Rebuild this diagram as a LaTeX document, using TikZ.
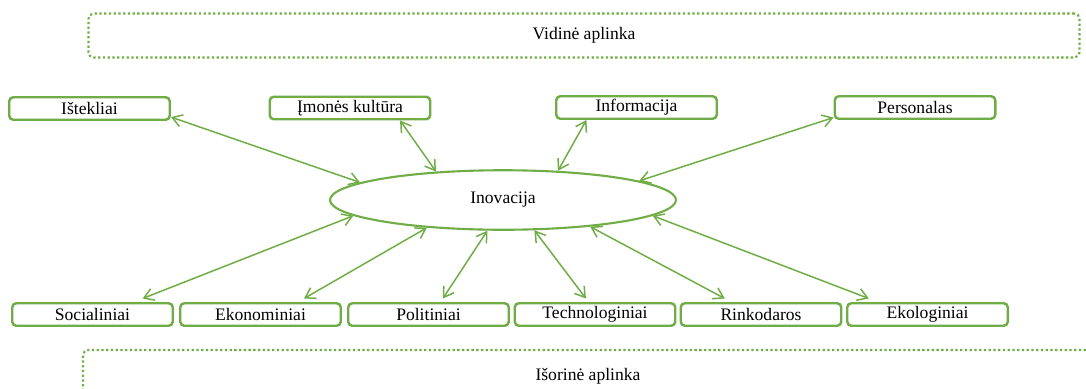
\documentclass[tikz,border=0pt]{standalone}
\usepackage{fontspec}
\setmainfont{Liberation Serif}
\usetikzlibrary{arrows.meta,shapes.geometric}
\definecolor{leaf}{RGB}{112,173,71}
\tikzset{
    factor/.style={draw=leaf,line width=1.4pt,rounded corners=2.3pt,fill=white,
        minimum width=3.21cm,minimum height=0.45cm,inner sep=0pt},
    env/.style={draw=leaf,line width=1.2pt,dash pattern=on 1.3pt off 1.4pt,rounded corners=3pt},
    link/.style={draw=leaf,line width=0.85pt,{Straight Barb[length=5.5pt,width=7pt]}-{Straight Barb[length=5.5pt,width=7pt]}}
}
\begin{document}
\begin{tikzpicture}
    \useasboundingbox (0,0) rectangle (21.72,-7.76);
    %% Environments
    \node[env,minimum width=19.82cm,minimum height=0.88cm] (vid) at (11.68,-0.71) {Vidinė aplinka};
    \begin{scope}
        \clip (0,0) rectangle (21.72,-7.76);
        \draw[env] (1.66,-8.2) -- (1.66,-7.0) -- (22.5,-7.0);
    \end{scope}
    \node (isor) at (11.76,-7.52) {Išorinė aplinka};
    %% Innovation
    \node[draw=leaf,line width=1.2pt,ellipse,minimum width=6.92cm,minimum height=1.19cm,inner sep=0pt] (ino) at (10.06,-4.0) {Inovacija};
    %% Internal factors
    \node[factor] (ist) at (1.79,-2.17) {Ištekliai};
    \node[factor] (imo) at (7.0,-2.16) {Įmonės kultūra};
    \node[factor] (inf) at (12.73,-2.15) {Informacija};
    \node[factor] (per) at (18.3,-2.15) {Personalas};
    %% External factors
    \node[factor] (soc) at (1.85,-6.29) {Socialiniai};
    \node[factor] (eko) at (5.21,-6.29) {Ekonominiai};
    \node[factor] (pol) at (8.57,-6.29) {Politiniai};
    \node[factor] (tec) at (11.9,-6.29) {Technologiniai};
    \node[factor] (rin) at (15.22,-6.29) {Rinkodaros};
    \node[factor] (ekl) at (18.55,-6.29) {Ekologiniai};
    %% Links
    \draw[link] (ist.-6) -- (ino.173);
    \draw[link] (imo.-14) -- (ino.157);
    \draw[link] (inf.194) -- (ino.28);
    \draw[link] (per.187) -- (ino.8.5);
    \draw[link] ([yshift=2pt]soc.14) -- (ino.186);
    \draw[link] ([yshift=2pt]eko.16) -- (ino.200);
    \draw[link] ([yshift=2pt]pol.41) -- (ino.243);
    \draw[link] ([yshift=2pt]tec.126) -- (ino.316);
    \draw[link] ([yshift=2pt]rin.161) -- (ino.343);
    \draw[link] ([yshift=2pt]ekl.168) -- (ino.354);
\end{tikzpicture}
\end{document}
